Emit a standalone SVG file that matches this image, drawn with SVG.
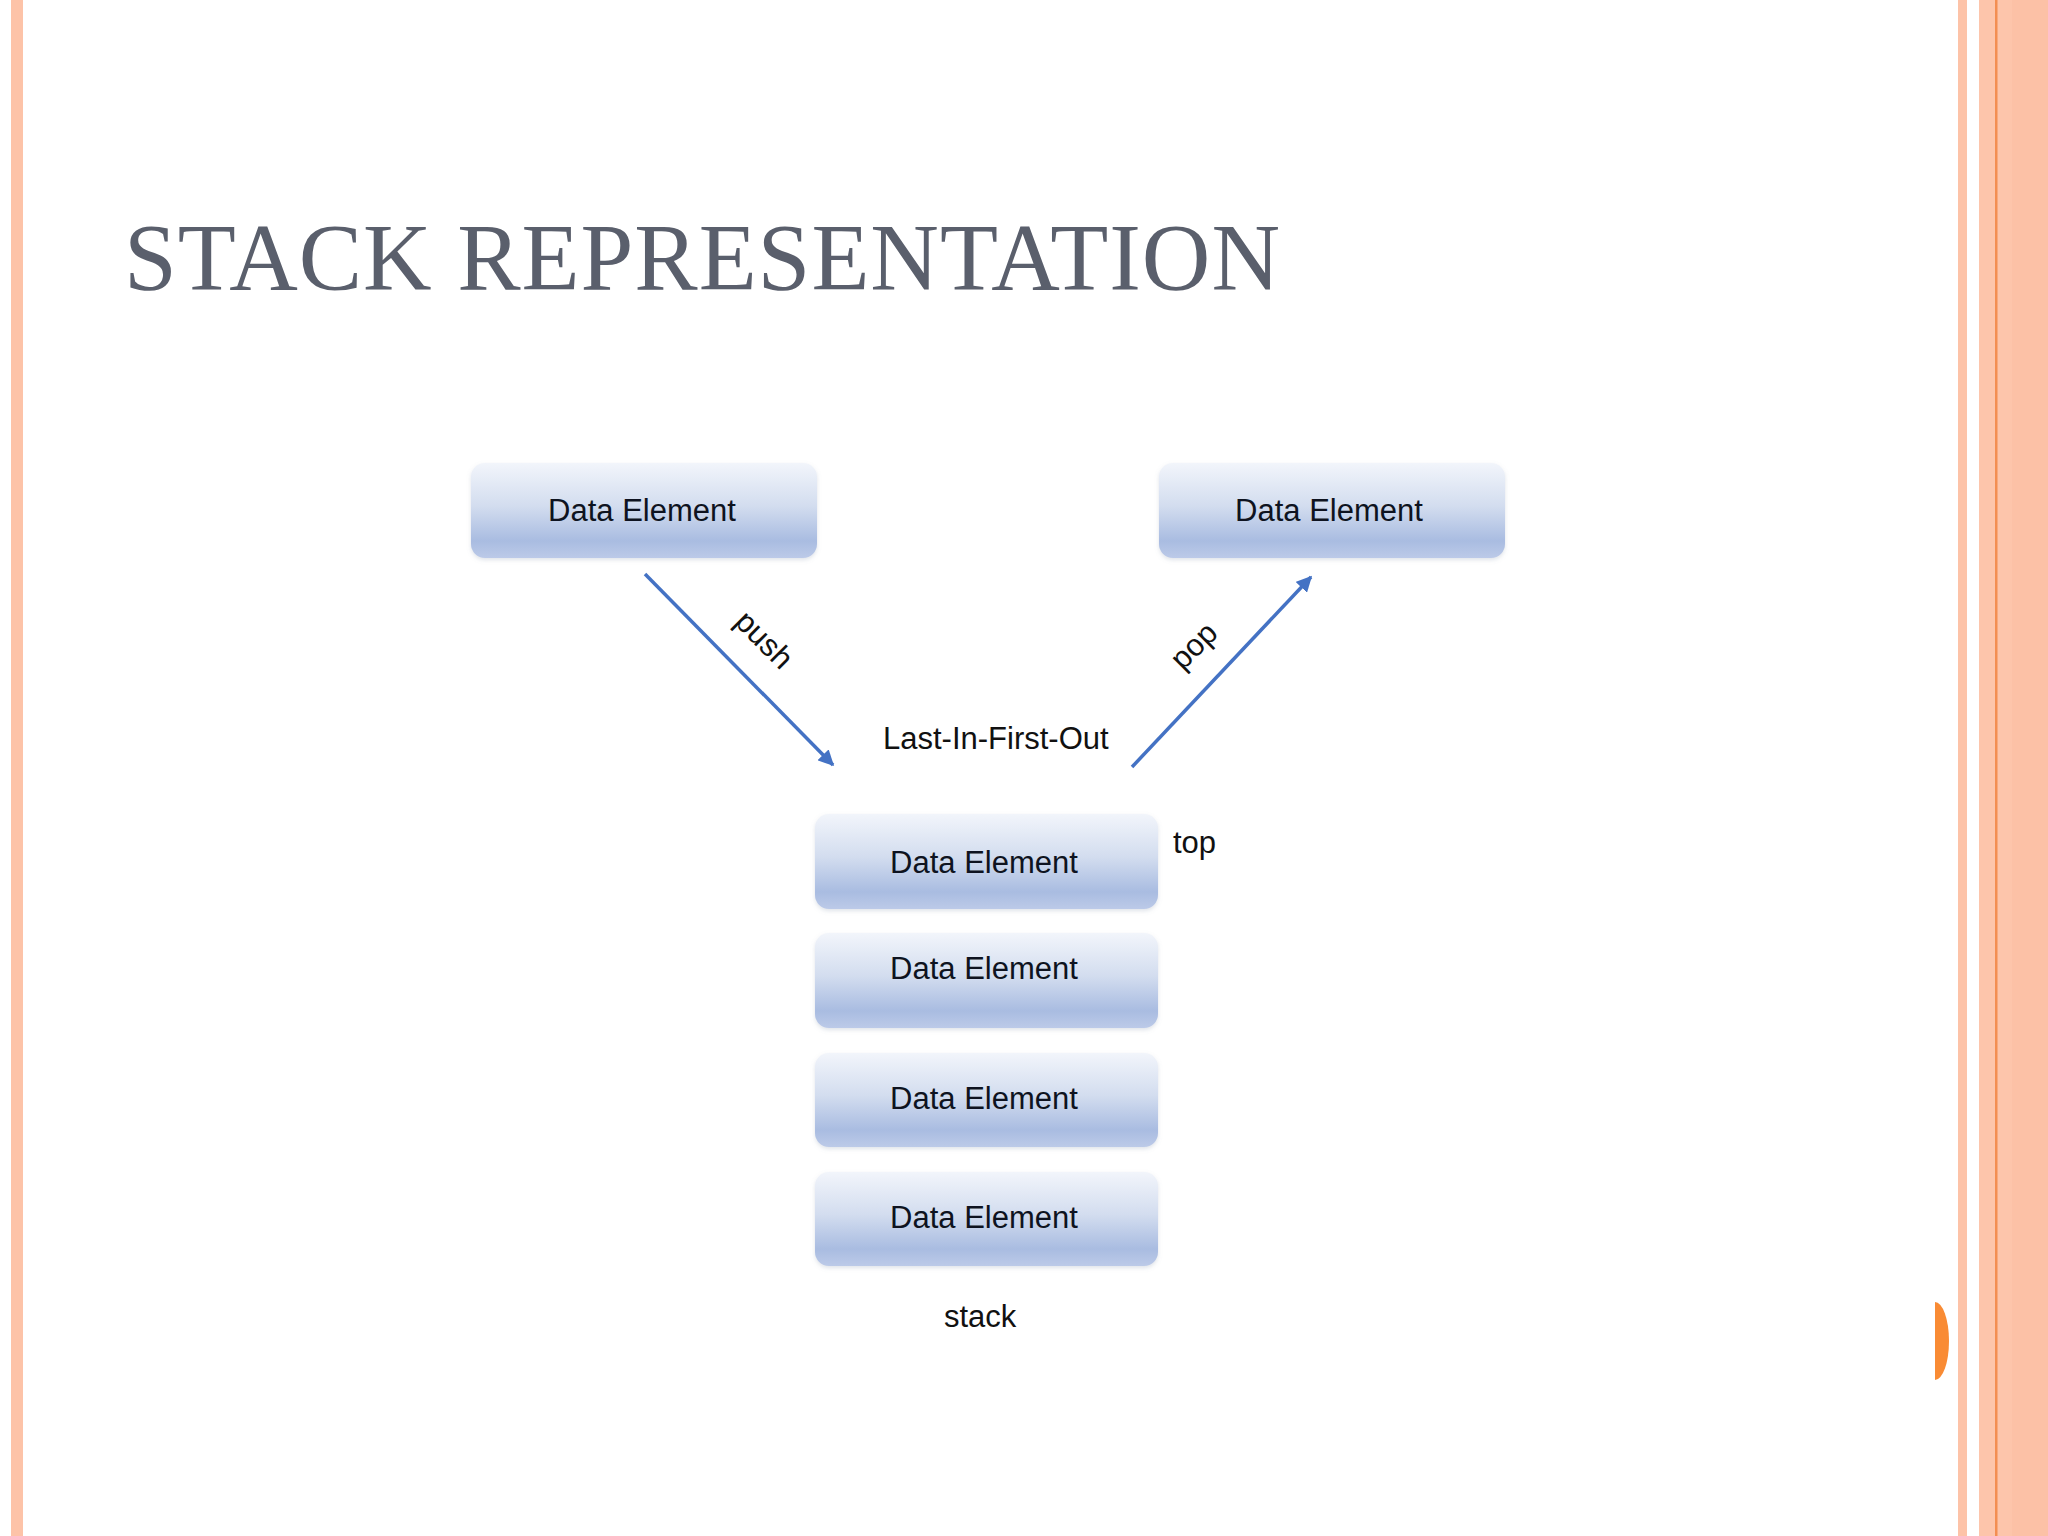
<svg xmlns="http://www.w3.org/2000/svg" width="2048" height="1536" viewBox="0 0 2048 1536">
<defs>
<linearGradient id="boxGrad" x1="0" y1="0" x2="0" y2="1">
<stop offset="0" stop-color="#F2F5FB"/>
<stop offset="0.45" stop-color="#D3DDEF"/>
<stop offset="0.82" stop-color="#A9BCE1"/>
<stop offset="1" stop-color="#BCCAE8"/>
</linearGradient>
<filter id="shadow" x="-5%" y="-10%" width="110%" height="130%">
<feDropShadow dx="0" dy="2" stdDeviation="2" flood-color="#8090A8" flood-opacity="0.25"/>
</filter>
<marker id="arrow" viewBox="0 0 10 10" refX="9" refY="5" markerWidth="4.5" markerHeight="4.5" orient="auto" markerUnits="strokeWidth">
<path d="M0,0 L10,5 L0,10 Z" fill="#4472C4"/>
</marker>
<style>
.box { fill: url(#boxGrad); filter: url(#shadow); }
.lbl { font-family: "Liberation Sans", Arial, sans-serif; font-size: 31px; fill: #0E1320; text-anchor: middle; }
.txt { font-family: "Liberation Sans", Arial, sans-serif; font-size: 31px; fill: #111111; }
.conn { stroke: #4472C4; stroke-width: 3.5; fill: none; marker-end: url(#arrow); }
</style>
</defs>
<rect x="0" y="0" width="2048" height="1536" fill="#FFFFFF"/>
<!-- borders -->
<rect x="11" y="0" width="12" height="1536" fill="#FDC3A8"/>
<rect x="1958" y="0" width="9" height="1536" fill="#FDC3A8"/>
<rect x="1979" y="0" width="69" height="1536" fill="#FDC5AB"/>
<rect x="2012" y="0" width="36" height="1536" fill="#FCC1A6"/>
<rect x="1995" y="0" width="2.5" height="1536" fill="#F38E52"/>
<path d="M1935,1302 A14,39 0 0 1 1935,1380 Z" fill="#F98B34"/>
<!-- title -->
<text x="124" y="290" font-family="'Liberation Serif', 'Times New Roman', serif" font-size="95" fill="#5A5F6C" textLength="1156" lengthAdjust="spacing">STACK REPRESENTATION</text>
<!-- connectors -->
<g id="connectors">
<line class="conn" x1="645" y1="574" x2="833" y2="765"/>
<line class="conn" x1="1132" y1="767" x2="1311" y2="577"/>
<text class="txt" text-anchor="middle" transform="translate(764,640) rotate(45)" y="10">push</text>
<text class="txt" text-anchor="middle" transform="translate(1194,646) rotate(-45)" y="10">pop</text>
</g>
<g id="node-push-src">
<rect class="box" x="471" y="463" width="346" height="95" rx="14"/>
<text class="lbl" x="642" y="521">Data Element</text>
</g>
<g id="node-pop-dst">
<rect class="box" x="1159" y="463" width="346" height="95" rx="14"/>
<text class="lbl" x="1329" y="521">Data Element</text>
</g>
<g id="label-lifo">
<text class="txt" x="883" y="749">Last-In-First-Out</text>
</g>
<g id="node-stack-1">
<rect class="box" x="815" y="814" width="343" height="95" rx="14"/>
<text class="lbl" x="984" y="873">Data Element</text>
</g>
<g id="label-top">
<text class="txt" x="1173" y="853">top</text>
</g>
<g id="node-stack-2">
<rect class="box" x="815" y="933" width="343" height="95" rx="14"/>
<text class="lbl" x="984" y="979">Data Element</text>
</g>
<g id="node-stack-3">
<rect class="box" x="815" y="1053" width="343" height="94" rx="14"/>
<text class="lbl" x="984" y="1109">Data Element</text>
</g>
<g id="node-stack-4">
<rect class="box" x="815" y="1172" width="343" height="94" rx="14"/>
<text class="lbl" x="984" y="1228">Data Element</text>
</g>
<g id="label-stack">
<text class="txt" x="944" y="1327">stack</text>
</g>
</svg>
